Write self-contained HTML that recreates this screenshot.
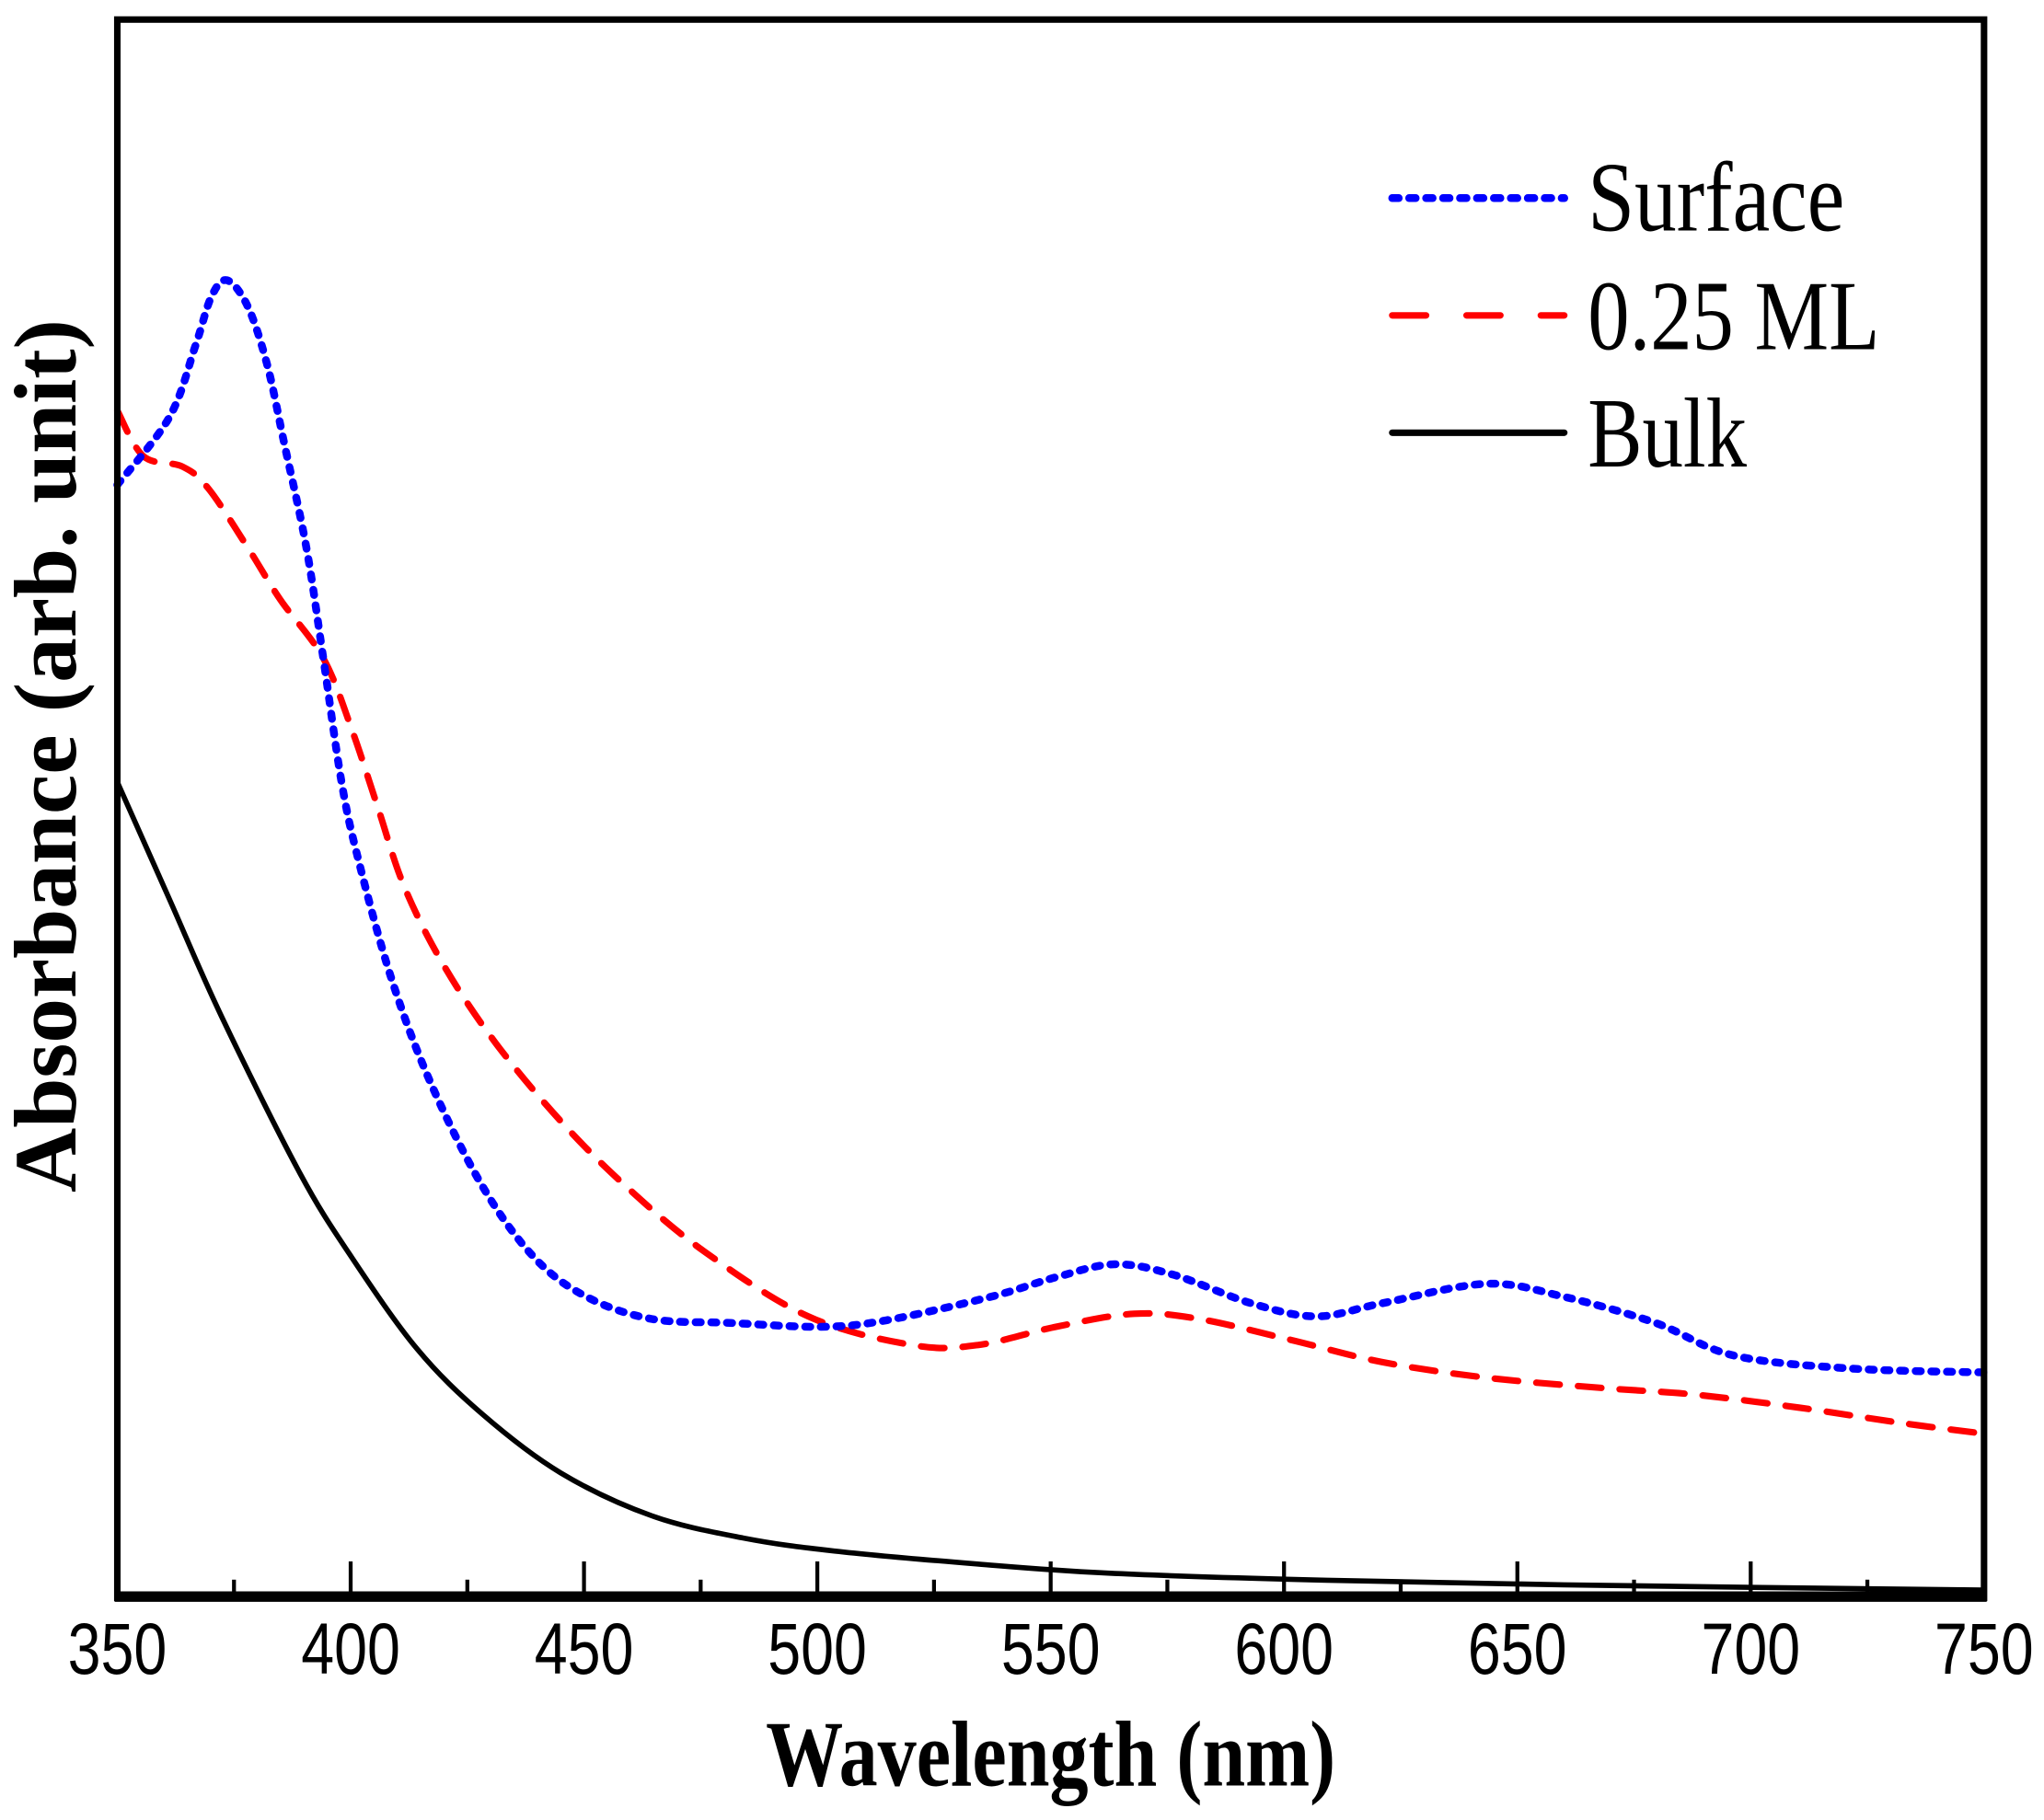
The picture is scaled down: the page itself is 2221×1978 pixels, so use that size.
<!DOCTYPE html>
<html><head><meta charset="utf-8"><style>html,body{margin:0;padding:0;background:#fff}svg{display:block}</style></head>
<body>
<svg id="s" width="2221" height="1978" viewBox="0 0 1568 1396.4" preserveAspectRatio="none" xmlns="http://www.w3.org/2000/svg">
<rect x="0" y="0" width="1568" height="1397" fill="#fff"/>
<g id="curves"></g>
<rect x="90" y="15" width="1432" height="1211" fill="none" stroke="#000" stroke-width="5"/>
<line x1="88" y1="1225" x2="1524" y2="1225" stroke="#000" stroke-width="8"/>
<g id="ticks" stroke="#000" stroke-width="3"></g>
<g font-family="'Liberation Sans', sans-serif" font-size="56" text-anchor="middle" id="tl"></g>
<text x="806" y="1370" font-family="'Liberation Serif', serif" font-weight="bold" font-size="72" textLength="437" lengthAdjust="spacingAndGlyphs" text-anchor="middle">Wavelength (nm)</text>
<text transform="translate(58,580) rotate(-90)" font-family="'Liberation Serif', serif" font-weight="bold" font-size="68" textLength="670" lengthAdjust="spacingAndGlyphs" text-anchor="middle">Absorbance (arb. unit)</text>
<line x1="1068" y1="152" x2="1200" y2="152" stroke="#0000ff" stroke-width="6" stroke-dasharray="5 8" stroke-linecap="round"/>
<line x1="1068" y1="242" x2="1200" y2="242" stroke="#ff0000" stroke-width="5" stroke-dasharray="26 31" stroke-linecap="round"/>
<line x1="1068" y1="332" x2="1200" y2="332" stroke="#000" stroke-width="5" stroke-linecap="round"/>
<g font-family="'Liberation Serif', serif" font-size="76">
<text x="1218" y="177" textLength="197" lengthAdjust="spacingAndGlyphs">Surface</text>
<text x="1218" y="268" textLength="224" lengthAdjust="spacingAndGlyphs">0.25 ML</text>
<text x="1218" y="358" textLength="122" lengthAdjust="spacingAndGlyphs">Bulk</text>
</g>
</svg>
<script>
function X(l){return 90+(l-350)*3.58;}
function path(p){
  var d="M"+p[0][0]+","+p[0][1];
  for(var i=0;i<p.length-1;i++){
    var p0=p[i-1]||p[i],p1=p[i],p2=p[i+1],p3=p[i+2]||p2;
    var c1x=p1[0]+(p2[0]-p0[0])/6,c1y=p1[1]+(p2[1]-p0[1])/6;
    var c2x=p2[0]-(p3[0]-p1[0])/6,c2y=p2[1]-(p3[1]-p1[1])/6;
    d+=" C"+c1x+","+c1y+" "+c2x+","+c2y+" "+p2[0]+","+p2[1];
  }
  return d;
}
var blue=[[90,372],[130,320],[150,265],[162,228],[174,215],[190,235],[205,280],[218,340],[235,420],[248,505],[262,600],[275,660],[300,750],[330,830],[370,910],[410,965],[450,995],[500,1012],[560,1015],[630,1018],[680,1013],[760,995],[810,980],[855,970],[900,978],[960,1000],[1010,1010],[1060,1000],[1140,985],[1200,995],[1270,1015],[1330,1040],[1420,1050],[1522,1053]];
var red=[[90,315],[110,350],[140,358],[160,375],[190,420],[215,460],[248,505],[270,560],[290,620],[310,680],[340,740],[380,800],[430,860],[480,910],[540,960],[620,1010],[700,1032],[750,1032],[810,1018],[870,1008],[920,1012],[990,1028],[1060,1045],[1140,1057],[1230,1065],[1300,1070],[1380,1080],[1460,1092],[1522,1100]];
var black=[[90,600],[130,690],[170,780],[230,900],[270,965],[320,1035],[370,1085],[430,1130],[500,1163],[570,1180],[640,1190],[750,1200],[850,1207],[1000,1212],[1200,1216],[1522,1220]];
var g=document.getElementById("curves"),ns="http://www.w3.org/2000/svg";
function add(pts,col,w,da){var e=document.createElementNS(ns,"path");e.setAttribute("d",path(pts));e.setAttribute("fill","none");e.setAttribute("stroke",col);e.setAttribute("stroke-width",w);if(da){e.setAttribute("stroke-dasharray",da);e.setAttribute("stroke-linecap","round");}g.appendChild(e);}
add(black,"#000",4,null);
add(red,"#ff0000",5,"18 14");
add(blue,"#0000ff",6,"4 8");
var t=document.getElementById("ticks"),tl=document.getElementById("tl");
for(var l=350;l<=750;l+=25){var x=X(l);if(l==350||l==750)continue;var e=document.createElementNS(ns,"line");e.setAttribute("x1",x);e.setAttribute("x2",x);e.setAttribute("y1",l%50==0?1198:1212);e.setAttribute("y2",1224);t.appendChild(e);}
for(var l=350;l<=750;l+=50){var e=document.createElementNS(ns,"text");e.setAttribute("x",X(l));e.setAttribute("y",1284);e.setAttribute("textLength",76);e.setAttribute("lengthAdjust","spacingAndGlyphs");e.textContent=l;tl.appendChild(e);}
</script>
</body></html>
